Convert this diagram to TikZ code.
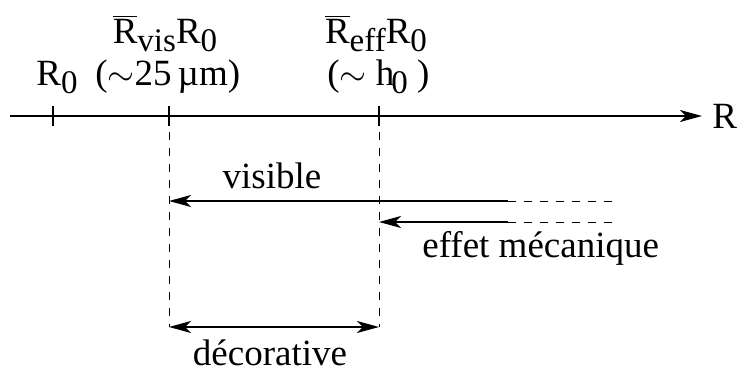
\documentclass[tikz,border=0pt]{standalone}
\usepackage{fontspec}
\setmainfont{Liberation Serif}
\usetikzlibrary{positioning,arrows.meta}

\newcommand{\lsub}[1]{\raisebox{-0.5ex}{\fontsize{16.5}{17}\selectfont #1}}
\newcommand{\Rbar}{$\overline{\mbox{R}}$}

\begin{document}
\begin{tikzpicture}[x=0.5pt,y=-0.5pt,
  lbl/.style={font=\fontsize{18.5}{21}\selectfont, inner sep=0pt},
  ax/.style={line width=0.8pt},
  tip/.style={-{Stealth[length=11pt,width=6pt,inset=3pt]}},
  tips/.style={{Stealth[length=11pt,width=6pt,inset=3pt]}-{Stealth[length=11pt,width=6pt,inset=3pt]}},
  guide/.style={line width=0.5pt, dash pattern=on 4pt off 4pt}]
\useasboundingbox (0,0) rectangle (741,375);

% axis and its ticks
\coordinate (a0) at (10,116);
\coordinate (a1) at (702,116);
\coordinate (t0) at (53,116);
\coordinate (tv) at (169,116);
\coordinate (te) at (379,116);
\draw[ax, tip] (a0) -- (a1);
\node[lbl, right=5pt of a1] (rr) {R};
\foreach \t in {t0,tv,te}
  \draw[ax] ([yshift=5pt]\t) -- ([yshift=-5pt]\t);

% labels above the axis
\node[lbl, anchor=base] (rvis) at (165,43) {\Rbar\lsub{vis}R\lsub{0}};
\node[lbl, anchor=base west] (r0) at (36,85) {R\lsub{0}};
\node[lbl, anchor=base west] (vis25) at (95,85) {($\sim$25\,µm)};
\node[lbl, anchor=base] (reff) at (376,43) {\Rbar\lsub{eff}R\lsub{0}};
\node[lbl, anchor=base west] (h0) at (327,85) {($\sim$ h\kern-1.5pt\lsub{0} )};

% dashed guides down to the bottom range
\coordinate (bv) at (169,327);
\coordinate (be) at (379,327);
\draw[guide] (tv) -- (bv);
\draw[guide] (te) -- (be);
\draw[ax, tips] (bv) -- (be);
\node[lbl, anchor=base] (deco) at (270,365) {décorative};

% ranges coming from the right
\coordinate (vs) at (508,201);
\coordinate (vd) at (612,201);
\coordinate (vt) at (169,201);
\coordinate (ms) at (508,222);
\coordinate (md) at (612,222);
\coordinate (mt) at (379,222);
\draw[ax, tip] (vs) -- (vt);
\draw[guide] (vs) -- (vd);
\draw[ax, tip] (ms) -- (mt);
\draw[guide] (ms) -- (md);
\node[lbl, anchor=base] (vis) at (272,189) {visible};
\node[lbl, anchor=base west] (meca) at (422,257) {effet mécanique};

\end{tikzpicture}
\end{document}
